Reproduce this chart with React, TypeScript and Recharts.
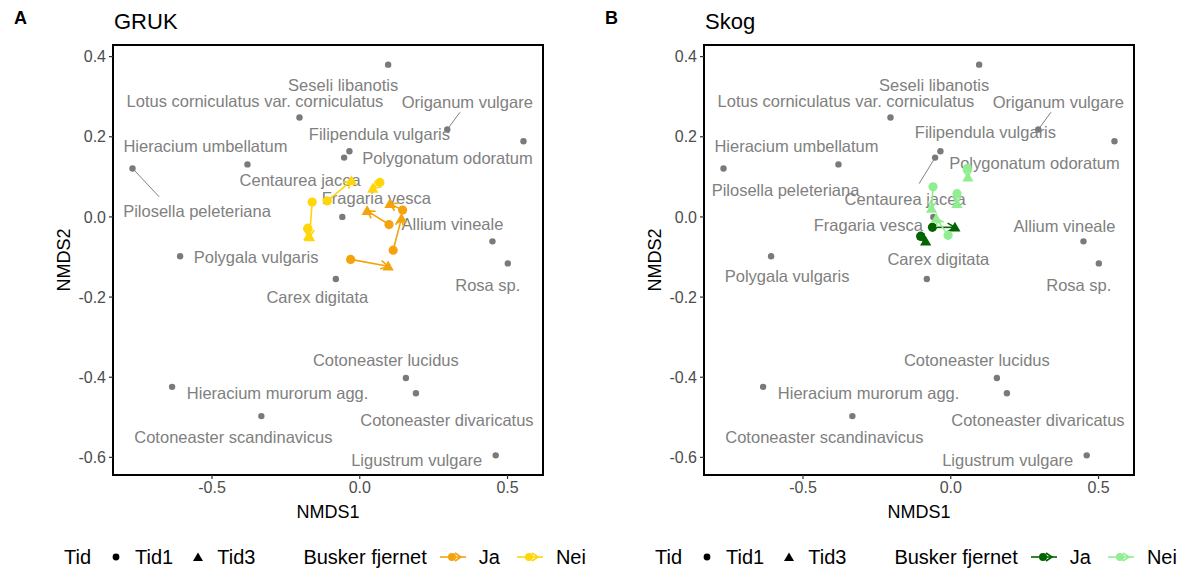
import React from "react";
import { ScatterChart, Scatter, XAxis, YAxis, ReferenceArea } from "recharts";

const FONT = "'Liberation Sans', Arial, Helvetica, sans-serif";

// species scores
const speciesNames = [
  "Seseli libanotis",
  "Lotus corniculatus var. corniculatus",
  "Origanum vulgare",
  "Polygonatum odoratum",
  "Pilosella peleteriana",
  "Hieracium umbellatum",
  "Filipendula vulgaris",
  "Centaurea jacea",
  "Fragaria vesca",
  "Polygala vulgaris",
  "Carex digitata",
  "Allium vineale",
  "Rosa sp.",
  "Cotoneaster lucidus",
  "Cotoneaster divaricatus",
  "Hieracium murorum agg.",
  "Cotoneaster scandinavicus",
  "Ligustrum vulgare",
];
const speciesNMDS1 = [0.096, -0.204, 0.296, 0.554, -0.769, -0.38, -0.035, -0.053, -0.059, -0.608, -0.081, 0.449, 0.501, 0.156, 0.19, -0.635, -0.333, 0.46];
const speciesNMDS2 = [0.38, 0.248, 0.218, 0.189, 0.121, 0.131, 0.164, 0.148, 0.0, -0.098, -0.155, -0.061, -0.116, -0.402, -0.44, -0.424, -0.497, -0.595];

// site scores per plot: [NMDS1 Tid1, NMDS2 Tid1, NMDS1 Tid3, NMDS2 Tid3]
const grukJa = [
  [-0.031, -0.106, 0.096, -0.123],
  [0.113, -0.083, 0.141, -0.004],
  [0.145, 0.017, 0.102, 0.033],
  [0.099, -0.019, 0.025, 0.015],
];
const grukNei = [
  [-0.161, 0.037, -0.17, -0.05],
  [-0.11, 0.04, -0.028, 0.09],
  [0.068, 0.086, 0.044, 0.071],
  [-0.176, -0.028, -0.173, -0.048],
];
const skogJa = [
  [-0.062, -0.026, 0.014, -0.026],
  [-0.102, -0.048, -0.085, -0.061],
];
const skogNei = [
  [0.056, 0.121, 0.058, 0.099],
  [-0.06, 0.075, -0.065, 0.021],
  [0.021, 0.058, 0.021, 0.033],
  [-0.009, -0.046, -0.049, -0.004],
];

const xTicks = [-0.5, 0, 0.5];
const yTicks = [-0.6, -0.4, -0.2, 0, 0.2, 0.4];
const xDomain: [number, number] = [-0.835, 0.62];
const yDomain: [number, number] = [-0.644, 0.429];

// label placement (px from the species point), optional segment end
type LabelPos = [number, number, number?, number?];
const labelsGruk: Record<string, LabelPos> = {
  "Seseli libanotis": [-45, 20],
  "Lotus corniculatus var. corniculatus": [-44.5, -17],
  "Origanum vulgare": [20, -28, 12.7, -17.3],
  "Polygonatum odoratum": [-76, 17],
  "Pilosella peleteriana": [64.5, 42.4, 26.7, 28.4],
  "Hieracium umbellatum": [-42, -18],
  "Filipendula vulgaris": [30, -17],
  "Centaurea jacea": [-44, 22],
  "Fragaria vesca": [34, -19],
  "Polygala vulgaris": [76, 0.7],
  "Carex digitata": [-18.5, 18],
  "Allium vineale": [-40, -17],
  "Rosa sp.": [-20, 22],
  "Cotoneaster lucidus": [-20, -18],
  "Cotoneaster divaricatus": [31, 27],
  "Hieracium murorum agg.": [105.5, 6],
  "Cotoneaster scandinavicus": [-28, 21],
  "Ligustrum vulgare": [-79, 5],
};
const labelsSkog: Record<string, LabelPos> = {
  ...labelsGruk,
  "Filipendula vulgaris": [45, -19],
  "Polygonatum odoratum": [-80, 22],
  "Centaurea jacea": [-30, 41, -16, 26],
  "Pilosella peleteriana": [62, 22],
  "Fragaria vesca": [-65, 8],
  "Allium vineale": [-19, -15],
  "Polygala vulgaris": [16, 20],
  "Carex digitata": [11.5, -20],
};

const speciesData = speciesNames.map((name, i) => ({ name, x: speciesNMDS1[i], y: speciesNMDS2[i] }));

const GREY = "#808080";

function speciesShape(labels: Record<string, LabelPos>) {
  return (p: any) => {
    const { cx, cy, payload } = p;
    const pos = labels[payload.name] || [0, -14];
    const [dx, dy, sx, sy] = pos;
    return (
      <g>
        {sx !== undefined && (
          <line x1={cx} y1={cy} x2={cx + sx} y2={cy + (sy as number)} stroke={GREY} strokeWidth={1} />
        )}
        <circle cx={cx} cy={cy} r={3.2} fill="#7a7a7a" />
        <text
          x={cx + dx}
          y={cy + dy}
          textAnchor="middle"
          dominantBaseline="central"
          fontSize={16.5}
          fontFamily={FONT}
          fill={GREY}
        >
          {payload.name}
        </text>
      </g>
    );
  };
}

function siteShape(color: string) {
  return (p: any) => {
    const { cx, cy, payload } = p;
    if (payload.tid === "Tid1") return <circle cx={cx} cy={cy} r={4.6} fill={color} />;
    const s = 5.6;
    return (
      <polygon
        points={`${cx},${cy - s} ${cx - s},${cy + s * 0.75} ${cx + s},${cy + s * 0.75}`}
        fill={color}
      />
    );
  };
}

function arrowLine(color: string) {
  return (props: any) => {
    const pts = props.points;
    if (!pts || pts.length < 2) return <g />;
    const a = pts[0];
    const b = pts[1];
    const ang = Math.atan2(b.y - a.y, b.x - a.x);
    const len = 8.5;
    const spread = Math.PI / 6;
    const h1x = b.x - len * Math.cos(ang - spread);
    const h1y = b.y - len * Math.sin(ang - spread);
    const h2x = b.x - len * Math.cos(ang + spread);
    const h2y = b.y - len * Math.sin(ang + spread);
    return (
      <g>
        <line x1={a.x} y1={a.y} x2={b.x} y2={b.y} stroke={color} strokeWidth={1.6} />
        <polyline
          points={`${h1x},${h1y} ${b.x},${b.y} ${h2x},${h2y}`}
          fill="none"
          stroke={color}
          strokeWidth={1.6}
        />
      </g>
    );
  };
}

function toSites(rows: number[][]) {
  return rows.map((r) => [
    { x: r[0], y: r[1], tid: "Tid1" },
    { x: r[2], y: r[3], tid: "Tid3" },
  ]);
}

function ArrowKey({ color }: { color: string }) {
  return (
    <svg width={28} height={14} style={{ display: "block" }}>
      <line x1={1} y1={7} x2={27} y2={7} stroke={color} strokeWidth={1.6} />
      <circle cx={13} cy={7} r={4} fill={color} />
      <polyline points="16,3 22,7 16,11" fill="none" stroke={color} strokeWidth={1.6} />
    </svg>
  );
}

function Legend({ ja, nei }: { ja: string; nei: string }) {
  const txt: React.CSSProperties = { fontSize: 20, color: "#000", whiteSpace: "nowrap" };
  return (
    <div style={{ display: "flex", alignItems: "center", fontFamily: FONT, height: 24 }}>
      <span style={txt}>Tid</span>
      <svg width={44} height={14} style={{ display: "block" }}>
        <circle cx={25} cy={7} r={3.4} fill="#000" />
      </svg>
      <span style={txt}>Tid1</span>
      <svg width={44} height={14} style={{ display: "block" }}>
        <polygon points="25,2.5 20,11 30,11" fill="#000" />
      </svg>
      <span style={txt}>Tid3</span>
      <span style={{ ...txt, marginLeft: 48 }}>Busker fjernet</span>
      <span style={{ margin: "0 12px" }}>
        <ArrowKey color={ja} />
      </span>
      <span style={txt}>Ja</span>
      <span style={{ margin: "0 12px 0 16px" }}>
        <ArrowKey color={nei} />
      </span>
      <span style={txt}>Nei</span>
    </div>
  );
}

interface PanelProps {
  left: number;
  tag: string;
  title: string;
  ja: number[][];
  nei: number[][];
  jaColor: string;
  neiColor: string;
  labels: Record<string, LabelPos>;
}

function Panel({ left, tag, title, ja, nei, jaColor, neiColor, labels }: PanelProps) {
  const tickStyle = { fontSize: 16, fill: "#4d4d4d", fontFamily: FONT };
  return (
    <div style={{ position: "absolute", left, top: 0, width: 590, height: 574 }}>
      <div style={{ position: "absolute", left: 14, top: 8, fontSize: 18, fontWeight: "bold", fontFamily: FONT }}>
        {tag}
      </div>
      <div style={{ position: "absolute", left: 114, top: 9, fontSize: 22, fontFamily: FONT }}>{title}</div>
      <ScatterChart width={590} height={530} margin={{ top: 45, right: 47, bottom: 0, left: 0 }}>
        <XAxis
          type="number"
          dataKey="x"
          domain={xDomain}
          ticks={xTicks}
          tickFormatter={(v: number) => v.toFixed(1)}
          axisLine={false}
          tickLine={{ stroke: "#333", strokeWidth: 1.2 }}
          tickSize={4}
          tickMargin={3}
          height={55}
          tick={tickStyle}
        />
        <YAxis
          type="number"
          dataKey="y"
          domain={yDomain}
          ticks={yTicks}
          tickFormatter={(v: number) => v.toFixed(1)}
          axisLine={false}
          tickLine={{ stroke: "#333", strokeWidth: 1.2 }}
          tickSize={4}
          tickMargin={3}
          width={113}
          tick={tickStyle}
        />
        <Scatter data={speciesData} shape={speciesShape(labels)} isAnimationActive={false} />
        {toSites(ja).map((d, i) => (
          <Scatter
            key={"ja" + i}
            data={d}
            fill={jaColor}
            line={arrowLine(jaColor)}
            shape={siteShape(jaColor)}
            isAnimationActive={false}
          />
        ))}
        {toSites(nei).map((d, i) => (
          <Scatter
            key={"nei" + i}
            data={d}
            fill={neiColor}
            line={arrowLine(neiColor)}
            shape={siteShape(neiColor)}
            isAnimationActive={false}
          />
        ))}
        <ReferenceArea
          x1={xDomain[0]}
          x2={xDomain[1]}
          y1={yDomain[0]}
          y2={yDomain[1]}
          fill="none"
          fillOpacity={0}
          stroke="#000"
          strokeWidth={2}
          ifOverflow="visible"
        />
      </ScatterChart>
      <div
        style={{
          position: "absolute",
          left: 113,
          width: 430,
          top: 502,
          textAlign: "center",
          fontSize: 18,
          fontFamily: FONT,
        }}
      >
        NMDS1
      </div>
      <div
        style={{
          position: "absolute",
          left: 64 - 50,
          top: 260 - 11,
          width: 100,
          height: 22,
          lineHeight: "22px",
          textAlign: "center",
          fontSize: 18,
          fontFamily: FONT,
          transform: "rotate(-90deg)",
        }}
      >
        NMDS2
      </div>
      <div style={{ position: "absolute", left: 64, top: 545 }}>
        <Legend ja={jaColor} nei={neiColor} />
      </div>
    </div>
  );
}

export default function App() {
  return (
    <div
      style={{
        position: "absolute",
        left: 0,
        top: 0,
        width: 1177,
        height: 574,
        background: "#fff",
        overflow: "hidden",
      }}
    >
      <Panel
        left={0}
        tag="A"
        title="GRUK"
        ja={grukJa}
        nei={grukNei}
        jaColor="#F4A30C"
        neiColor="#FFD60A"
        labels={labelsGruk}
      />
      <Panel
        left={591}
        tag="B"
        title="Skog"
        ja={skogJa}
        nei={skogNei}
        jaColor="#006400"
        neiColor="#90EE90"
        labels={labelsSkog}
      />
    </div>
  );
}
